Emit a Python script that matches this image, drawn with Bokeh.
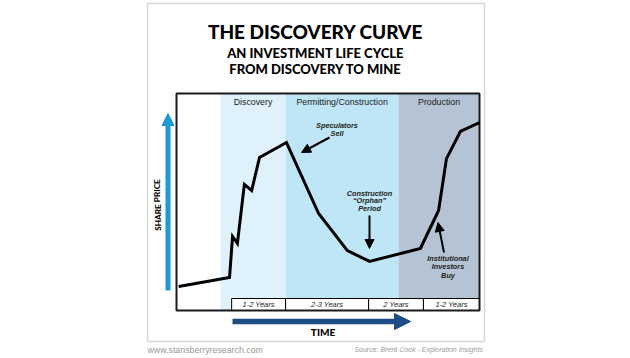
from bokeh.plotting import figure
from bokeh.models import Range1d, Arrow, NormalHead
from bokeh.core.properties import value
from bokeh.embed import file_html
from bokeh.resources import INLINE

# ---------------- data ----------------
# time (0-100 across the chart box) and share price (0-100) of the discovery curve
curve_time = [0.7, 17.5, 18.5, 20.1, 22.4, 24.8, 27.4, 36.3, 46.9, 56.4, 63.7, 80.5, 86.5, 89.1, 93.7, 100]
curve_price = [11.1, 15.2, 34.1, 30.9, 58.1, 55.3, 70.5, 77.4, 44.7, 27.6, 22.6, 28.6, 46.1, 70.0, 82.5, 86.6]

phase_names = ["Discovery", "Permitting/Construction", "Production"]
phase_start = [14.5, 36.0, 73.3]
phase_end = [36.0, 73.3, 100.0]
phase_colors = ["#dff1fa", "#bee6f6", "#b5c4d4"]

year_labels = ["1-2 Years", "2-3 Years", "2 Years", "1-2 Years"]
year_edges = [18.2, 36.0, 63.4, 81.5, 100.0]

# ---------------- layout helpers (pixel -> data) ----------------
X0, XS = 176.0, 3.03
Y0, YS = 310.0, 2.17


def sx(px):
    return (px - X0) / XS


def sy(py):
    return (Y0 - py) / YS


W, H = 630, 358
p = figure(width=W, height=H, output_backend="svg", toolbar_location=None,
           x_range=Range1d(sx(0), sx(W)), y_range=Range1d(sy(H), sy(0)),
           min_border=0, x_axis_location=None, y_axis_location=None)
p.grid.visible = False
p.outline_line_color = None
p.background_fill_color = "white"
p.border_fill_color = "white"

FONT = value("Liberation Sans")
HEAVY = value("'Lato Black', 'Liberation Sans'")

# card
p.quad(left=[sx(147)], right=[sx(484)], bottom=[sy(341)], top=[sy(3)],
       fill_color="white", line_color="#d6d6d6", line_width=1.5)

# phase bands
p.quad(left=phase_start, right=phase_end, bottom=[0] * 3, top=[100] * 3,
       fill_color=phase_colors, line_color=None)

# years row
row_top = sy(298)
p.quad(left=year_edges[:-1], right=year_edges[1:], bottom=[0] * 4, top=[row_top] * 4,
       fill_color="white", line_color="black", line_width=1)

# chart box
p.quad(left=[0], right=[100], bottom=[0], top=[100], fill_color=None,
       line_color="#1a1a1a", line_width=2)

# curve
p.line(curve_time, curve_price, line_color="black", line_width=3, line_join="miter")

# phase headers
p.text(x=[(a + b) / 2 for a, b in zip(phase_start, phase_end)], y=[sy(101)] * 3,
       text=phase_names, text_font=FONT, text_font_size="8.8px",
       text_align="center", text_baseline="middle", text_color="#222222")

# year labels
p.text(x=[(a + b) / 2 for a, b in zip(year_edges[:-1], year_edges[1:])], y=[row_top / 2] * 4,
       text=year_labels, text_font=FONT, text_font_size="7.5px", text_font_style="italic",
       text_align="center", text_baseline="middle", text_color="#222222")

# titles
p.text(x=[sx(315)], y=[sy(31)], text=["THE DISCOVERY CURVE"], text_font=HEAVY,
       text_font_size="19px", text_font_style="bold", text_align="center",
       text_baseline="middle", text_color="black")
p.text(x=[sx(315)] * 2, y=[sy(52.5), sy(68.5)],
       text=["AN INVESTMENT LIFE CYCLE", "FROM DISCOVERY TO MINE"], text_font=HEAVY,
       text_font_size="13px", text_font_style="bold", text_align="center",
       text_baseline="middle", text_color="black")

# share price axis
p.add_layout(Arrow(end=NormalHead(size=12, fill_color="#1b9ad8", line_color="#1b9ad8"),
                   x_start=sx(167.5), y_start=sy(290), x_end=sx(167.5), y_end=sy(113),
                   line_color="#1b9ad8", line_width=5))
p.text(x=[sx(157)], y=[sy(204.5)], text=["SHARE PRICE"], angle=1.5708,
       text_font=HEAVY, text_font_size="8.2px", text_font_style="bold",
       text_align="center", text_baseline="middle", text_color="black")

# time axis
p.add_layout(Arrow(end=NormalHead(size=16, fill_color="#1c4b85", line_color="#1c4b85"),
                   x_start=sx(232), y_start=sy(321), x_end=sx(410), y_end=sy(321),
                   line_color="#1c4b85", line_width=5.5))
p.text(x=[sx(322.5)], y=[sy(331)], text=["TIME"], text_font=HEAVY, text_font_size="10px",
       text_font_style="bold", text_align="center", text_baseline="middle", text_color="black")

# annotations
ann = dict(text_font=FONT, text_font_size="7.3px", text_font_style="bold italic",
           text_align="center", text_baseline="middle", text_color="#222222")
p.text(x=[sx(336.5)] * 2, y=[sy(125), sy(133)], text=["Speculators", "Sell"], **ann)
p.text(x=[sx(369)] * 3, y=[sy(192.5), sy(200), sy(208)],
       text=["Construction", "\u201cOrphan\u201d", "Period"], **ann)
p.text(x=[sx(447.5)] * 3, y=[sy(258), sy(266), sy(274.5)],
       text=["Institutional", "Investors", "Buy"], **ann)

for (x1, y1, x2, y2) in [(329, 137, 301, 152), (369, 215, 369, 248), (443.5, 252, 437.5, 222)]:
    p.add_layout(Arrow(end=NormalHead(size=9, fill_color="black", line_color="black"),
                       x_start=sx(x1), y_start=sy(y1), x_end=sx(x2), y_end=sy(y2),
                       line_color="black", line_width=2))

# footer
p.text(x=[sx(147)], y=[sy(349)], text=["www.stansberryresearch.com"], text_font=FONT,
       text_font_size="8.8px", text_align="left", text_baseline="middle", text_color="#9a9a9a")
p.text(x=[sx(378)], y=[sy(349)], text=["Source:"], text_font=FONT,
       text_font_size="7px", text_align="right", text_baseline="middle", text_color="#9a9a9a")
p.text(x=[sx(380)], y=[sy(349)], text=["Brent Cook - Exploration Insights"], text_font=FONT,
       text_font_size="7px", text_font_style="italic", text_align="left",
       text_baseline="middle", text_color="#9a9a9a")

open("out.html", "w").write(file_html(p, INLINE))
